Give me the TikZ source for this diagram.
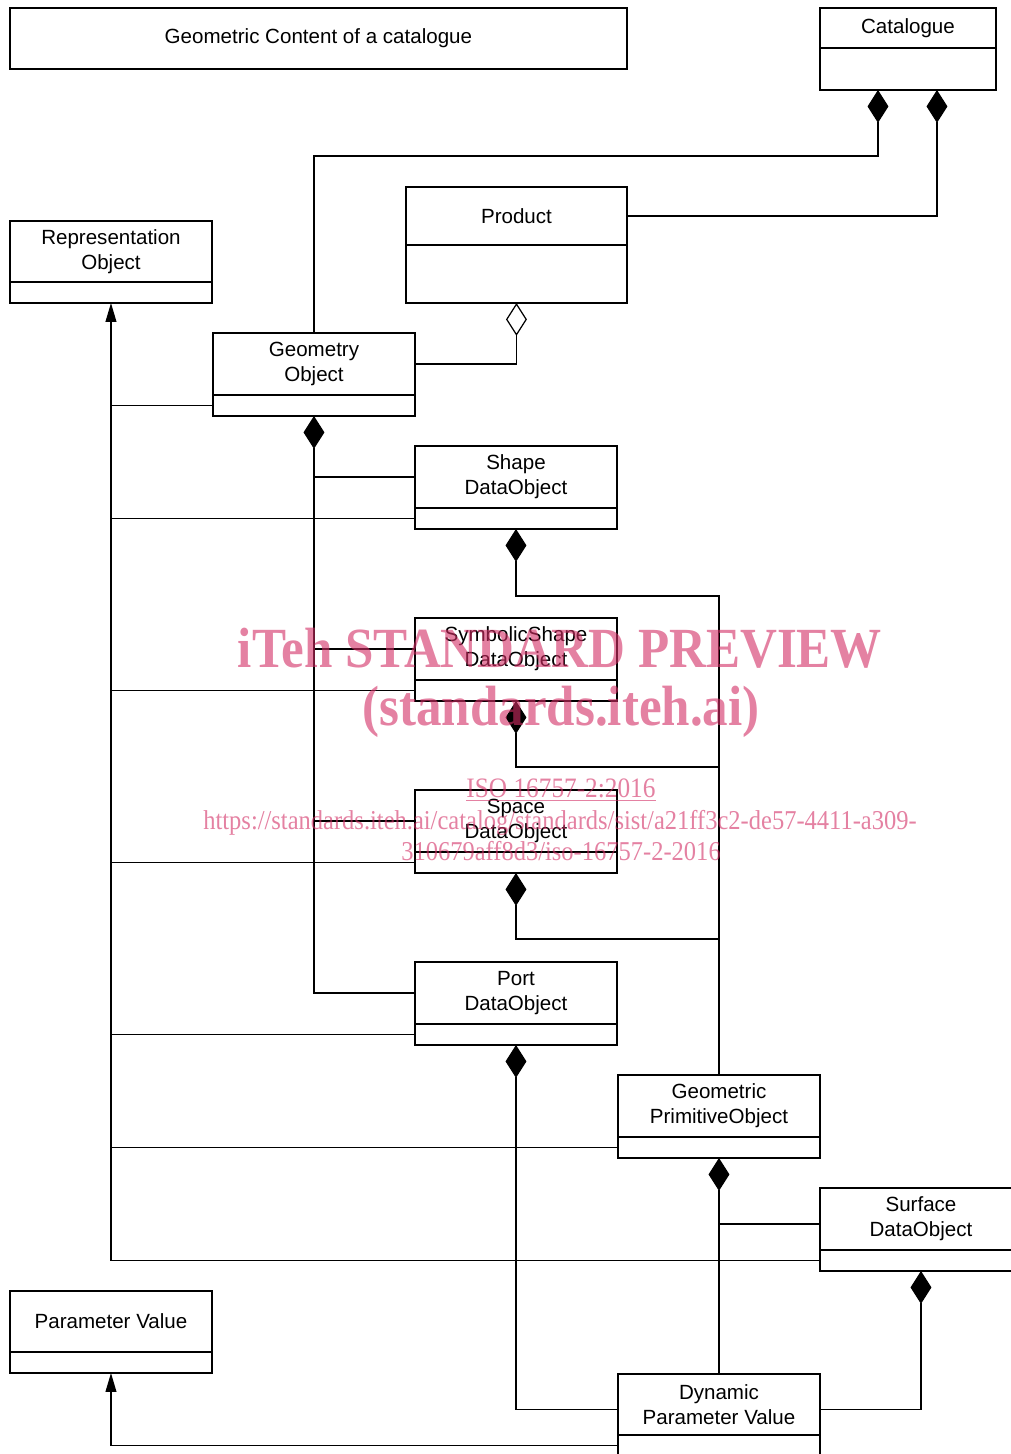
\documentclass[tikz,border=0pt]{standalone}
\usepackage{fontspec}
\setmainfont{Liberation Sans}
\newfontfamily\wmfont[FakeStretch=0.9]{Liberation Serif}
\usepackage{xcolor}
\usepackage{tikz}
\usetikzlibrary{positioning,arrows.meta}

\definecolor{wmpink}{RGB}{210,45,100}
\newcommand\clsfont{\fontsize{11.7}{14.2}\selectfont}

\tikzset{
  cls/.style={draw, line width=0.8pt, minimum width=4.04cm, minimum height=1.22cm,
    inner sep=0pt, outer sep=0pt, align=center, font=\clsfont, anchor=north west},
  clsbot/.style={draw, line width=0.8pt, minimum width=4.04cm, minimum height=0.42cm,
    inner sep=0pt, outer sep=0pt, below=0pt of #1},
  link/.style={line width=0.7pt},
  compo/.style={line width=0.7pt, {Diamond[length=18.7pt,width=11.9pt]}-},
  aggr/.style={line width=0.7pt, {Diamond[open,length=18.7pt,width=11.9pt]}-},
  gen/.style={line width=0.7pt, -{Triangle[length=10.8pt,width=6.2pt]}},
  wm/.style={text=wmpink, text opacity=0.6, inner sep=0pt, anchor=base}
}

\begin{document}
\begin{tikzpicture}[x=0.02cm, y=-0.02cm]
  \path[use as bounding box, clip] (0,0) rectangle (1011,1454);

  \node[cls, minimum width=12.34cm] (title) at (10,8) {Geometric Content of a catalogue};

  \node[cls, minimum width=3.52cm, minimum height=0.8cm] (cat) at (820,8) {Catalogue};
  \node[clsbot=cat, minimum width=3.52cm, minimum height=0.84cm] (cat-b) {};

  \node[cls, minimum width=4.42cm, minimum height=1.16cm] (prod) at (406,187) {Product};
  \node[clsbot=prod, minimum width=4.42cm, minimum height=1.16cm] (prod-b) {};

  \node[cls] (rep) at (10,221) {Representation\\Object};
  \node[clsbot=rep] (rep-b) {};

  \node[cls, minimum height=1.24cm] (geo) at (213,333) {Geometry\\Object};
  \node[clsbot=geo] (geo-b) {};

  \node[cls, minimum height=1.24cm] (shape) at (415,446) {Shape\\DataObject};
  \node[clsbot=shape] (shape-b) {};

  \node[cls, minimum height=1.24cm] (symb) at (415,618) {SymbolicShape\\DataObject};
  \node[clsbot=symb] (symb-b) {};

  \node[cls, minimum height=1.24cm] (space) at (415,790) {Space\\DataObject};
  \node[clsbot=space] (space-b) {};

  \node[cls, minimum height=1.24cm] (port) at (415,962) {Port\\DataObject};
  \node[clsbot=port] (port-b) {};

  \node[cls, minimum height=1.24cm] (prim) at (618,1075) {Geometric\\PrimitiveObject};
  \node[clsbot=prim] (prim-b) {};

  \node[cls, minimum height=1.24cm] (surf) at (820,1188) {Surface\\DataObject};
  \node[clsbot=surf] (surf-b) {};

  \node[cls] (param) at (10,1291) {Parameter Value};
  \node[clsbot=param] (param-b) {};

  \node[cls] (dyn) at (618,1374) {Dynamic\\Parameter Value};
  \node[clsbot=dyn] (dyn-b) {};

  \coordinate (surf-in) at ([yshift=-0.1cm]surf.west);
  \coordinate (dyn-l) at ([yshift=-0.1cm]dyn.west);
  \coordinate (dyn-r) at ([yshift=-0.1cm]dyn.east);

  \draw[compo] ([xshift=-0.6cm]cat-b.south) -- ++(0,66) -| (geo.north);
  \draw[compo] ([xshift=0.58cm]cat-b.south) |- (prod.east);
  \draw[aggr] (prod-b.south) |- (geo.east);

  \draw[compo] (geo-b.south) |- (port.west);
  \foreach \n in {shape,symb,space}
    \draw[link] (geo-b.south |- \n.west) -- (\n.west);

  \draw[gen] (surf-b.west) -| (rep-b.south);
  \foreach \n in {geo,shape,symb,space,port,prim}
    \draw[link] (\n-b.west) -- (\n-b.west -| rep-b.south);

  \foreach \n/\d in {shape/67,symb/66,space/66}
    \draw[compo] (\n-b.south) -- ++(0,\d) -| (prim.north);

  \draw[compo] (port-b.south) |- (dyn-l);
  \draw[compo] (prim-b.south) -- (dyn.north);
  \draw[link] (prim-b.south |- surf-in) -- (surf-in);
  \draw[compo] (surf-b.south) |- (dyn-r);
  \draw[gen] (dyn-b.west) -| (param-b.south);

  \node[wm, font=\wmfont\fontsize{32.3}{32}\selectfont\bfseries] (wm1) at (560,667) {iTeh STANDARD PREVIEW};
  \node[wm, font=\wmfont\fontsize{32.3}{32}\selectfont\bfseries] (wm2) at (561,725) {(standards.iteh.ai)};
  \node[wm, font=\wmfont\fontsize{16}{16}\selectfont] (wm3) at (561,797) {\underline{ISO 16757-2:2016}};
  \node[wm, font=\wmfont\fontsize{15.5}{16}\selectfont] (wm4) at (560,829) {https://standards.iteh.ai/catalog/standards/sist/a21ff3c2-de57-4411-a309-};
  \node[wm, font=\wmfont\fontsize{15.5}{16}\selectfont] (wm5) at (561,860) {310679aff8d3/iso-16757-2-2016};
\end{tikzpicture}
\end{document}
